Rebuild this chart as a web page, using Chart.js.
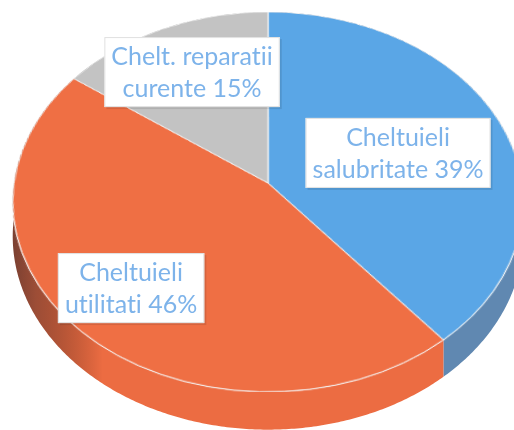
<!DOCTYPE html>
<html>
<head>
<meta charset="utf-8">
<script src="https://cdn.jsdelivr.net/npm/chart.js@4"></script>
<style>
    html, body { margin: 0; padding: 0; background: #ffffff; }
    #wrap { width: 514px; height: 430px; }
</style>
</head>
<body>
<div id="wrap"><canvas id="pieChart" width="514" height="430"></canvas></div>
<script>
// Data
const categories = ['Cheltuieli salubritate', 'Cheltuieli utilitati', 'Chelt. reparatii curente'];
const values = [39, 46, 15];
const labelLines = [['Cheltuieli', 'salubritate'], ['Cheltuieli', 'utilitati'], ['Chelt. reparatii', 'curente']];

// Styles
const topColors = ['#5aa6e6', '#ef6f44', '#c3c3c3'];
const wallColors = ['#6088b1', '#ec6c42', '#a6a6a6'];
const textColor = '#7db3ea';

// Perspective of the tilted disc: apex position, radii, foreshortening, wall height
const view = { cx: 268, cy: 183, bx: 254, by: 188, k: 0.10, depth: 34 };
// label box centres relative to the apex, in units of bx / by
const labelAnchors = [[0.512, -0.160], [-0.539, 0.559], [-0.299, -0.590]];

// point of the flat unit disc (u right, v down) on the tilted plane
function project(u, v) {
    const s = 1 / (1 - view.k * v);
    return { x: view.cx + view.bx * u * s, y: view.cy + view.by * v * s, s: s };
}

// map the flat pie drawn by Chart.js onto the tilted plane, row by row
function warp(img, W, H, ax, ay, R) {
    const out = document.createElement('canvas');
    out.width = W;
    out.height = H;
    const o = out.getContext('2d');
    const vAt = y => (y - view.cy) / (view.by + view.k * (y - view.cy));
    for (let y = 0; y < H; y++) {
        const v0 = vAt(y), v1 = vAt(y + 1);
        if (v1 < -1 || v0 > 1) continue;
        const sy0 = Math.max(0, ay + v0 * R);
        const sy1 = Math.min(H, ay + v1 * R);
        if (sy1 <= sy0) continue;
        const s = 1 / (1 - view.k * (v0 + v1) / 2);
        const scale = view.bx * s / R;
        o.drawImage(img, 0, sy0, W, sy1 - sy0, view.cx - ax * scale, y, W * scale, 1);
    }
    return out;
}

const tiltPlugin = {
    id: 'tilt',
    afterDatasetsDraw(chart) {
        const arcs = chart.getDatasetMeta(0).data;
        if (!arcs.length) return;
        const ctx = chart.ctx;
        const W = chart.width, H = chart.height;
        const a0 = arcs[0];

        const flat = document.createElement('canvas');
        flat.width = W;
        flat.height = H;
        flat.getContext('2d').drawImage(chart.canvas, 0, 0, W, H);
        const top = warp(flat, W, H, a0.x, a0.y, a0.outerRadius);

        // wall under the rim of every slice
        const wall = document.createElement('canvas');
        wall.width = W;
        wall.height = H;
        const wc = wall.getContext('2d');
        arcs.forEach((arc, i) => {
            const s0 = arc.startAngle, s1 = arc.endAngle;
            const n = Math.max(8, Math.ceil((s1 - s0) / 0.01));
            wc.beginPath();
            for (let j = 0; j <= n; j++) {
                const a = s0 + (s1 - s0) * j / n;
                const p = project(Math.cos(a), Math.sin(a));
                if (j === 0) wc.moveTo(p.x, p.y); else wc.lineTo(p.x, p.y);
            }
            for (let j = n; j >= 0; j--) {
                const a = s0 + (s1 - s0) * j / n;
                const p = project(Math.cos(a), Math.sin(a));
                wc.lineTo(p.x, p.y + view.depth * p.s);
            }
            wc.closePath();
            wc.fillStyle = wallColors[i];
            wc.fill();
        });
        wc.globalCompositeOperation = 'source-atop';
        const g = wc.createLinearGradient(0, 0, W, 0);
        g.addColorStop(0, 'rgba(60,40,40,0.75)');
        g.addColorStop(0.07, 'rgba(60,40,40,0.45)');
        g.addColorStop(0.2, 'rgba(0,0,0,0)');
        g.addColorStop(1, 'rgba(0,0,0,0)');
        wc.fillStyle = g;
        wc.fillRect(0, 0, W, H);

        ctx.save();
        ctx.setTransform(1, 0, 0, 1, 0, 0);
        ctx.clearRect(0, 0, W, H);
        ctx.drawImage(wall, 0, 0);
        ctx.drawImage(top, 0, 0);
        ctx.restore();
    },
    afterDraw(chart) {
        const ctx = chart.ctx;
        const total = values.reduce((s, v) => s + v, 0);
        ctx.save();
        ctx.font = '25px Lato, "Liberation Sans", sans-serif';
        ctx.textAlign = 'center';
        ctx.textBaseline = 'middle';
        const lineH = 32;
        // zero-width non-joiner keeps Lato from drawing the "ti" ligature
        const plain = t => t.replace(/ti/g, 't\u200Ci');
        values.forEach((v, i) => {
            const lines = [labelLines[i][0], labelLines[i][1] + ' ' + Math.round(v / total * 100) + '%'].map(plain);
            const w = Math.max(...lines.map(t => ctx.measureText(t).width)) + 14;
            const h = lines.length * lineH + 6;
            const x = view.cx + labelAnchors[i][0] * view.bx;
            const y = view.cy + labelAnchors[i][1] * view.by;
            ctx.fillStyle = 'rgba(0,0,0,0.10)';
            ctx.fillRect(x - w / 2 + 2, y - h / 2 + 2, w, h);
            ctx.fillStyle = '#ffffff';
            ctx.fillRect(x - w / 2, y - h / 2, w, h);
            ctx.strokeStyle = '#e0e0e0';
            ctx.lineWidth = 1;
            ctx.strokeRect(x - w / 2 + 0.5, y - h / 2 + 0.5, w - 1, h - 1);
            ctx.fillStyle = textColor;
            lines.forEach((t, j) => {
                ctx.fillText(t, x, y - (lines.length - 1) * lineH / 2 + j * lineH + 1);
            });
        });
        ctx.restore();
    }
};

new Chart(document.getElementById('pieChart'), {
    type: 'pie',
    data: {
        labels: categories,
        datasets: [{
            data: values,
            backgroundColor: topColors,
            borderColor: '#f4f4f4',
            borderWidth: 1,
            clip: false
        }]
    },
    options: {
        responsive: false,
        animation: false,
        events: [],
        plugins: {
            legend: { display: false },
            tooltip: { enabled: false }
        }
    },
    plugins: [tiltPlugin]
});
</script>
</body>
</html>
